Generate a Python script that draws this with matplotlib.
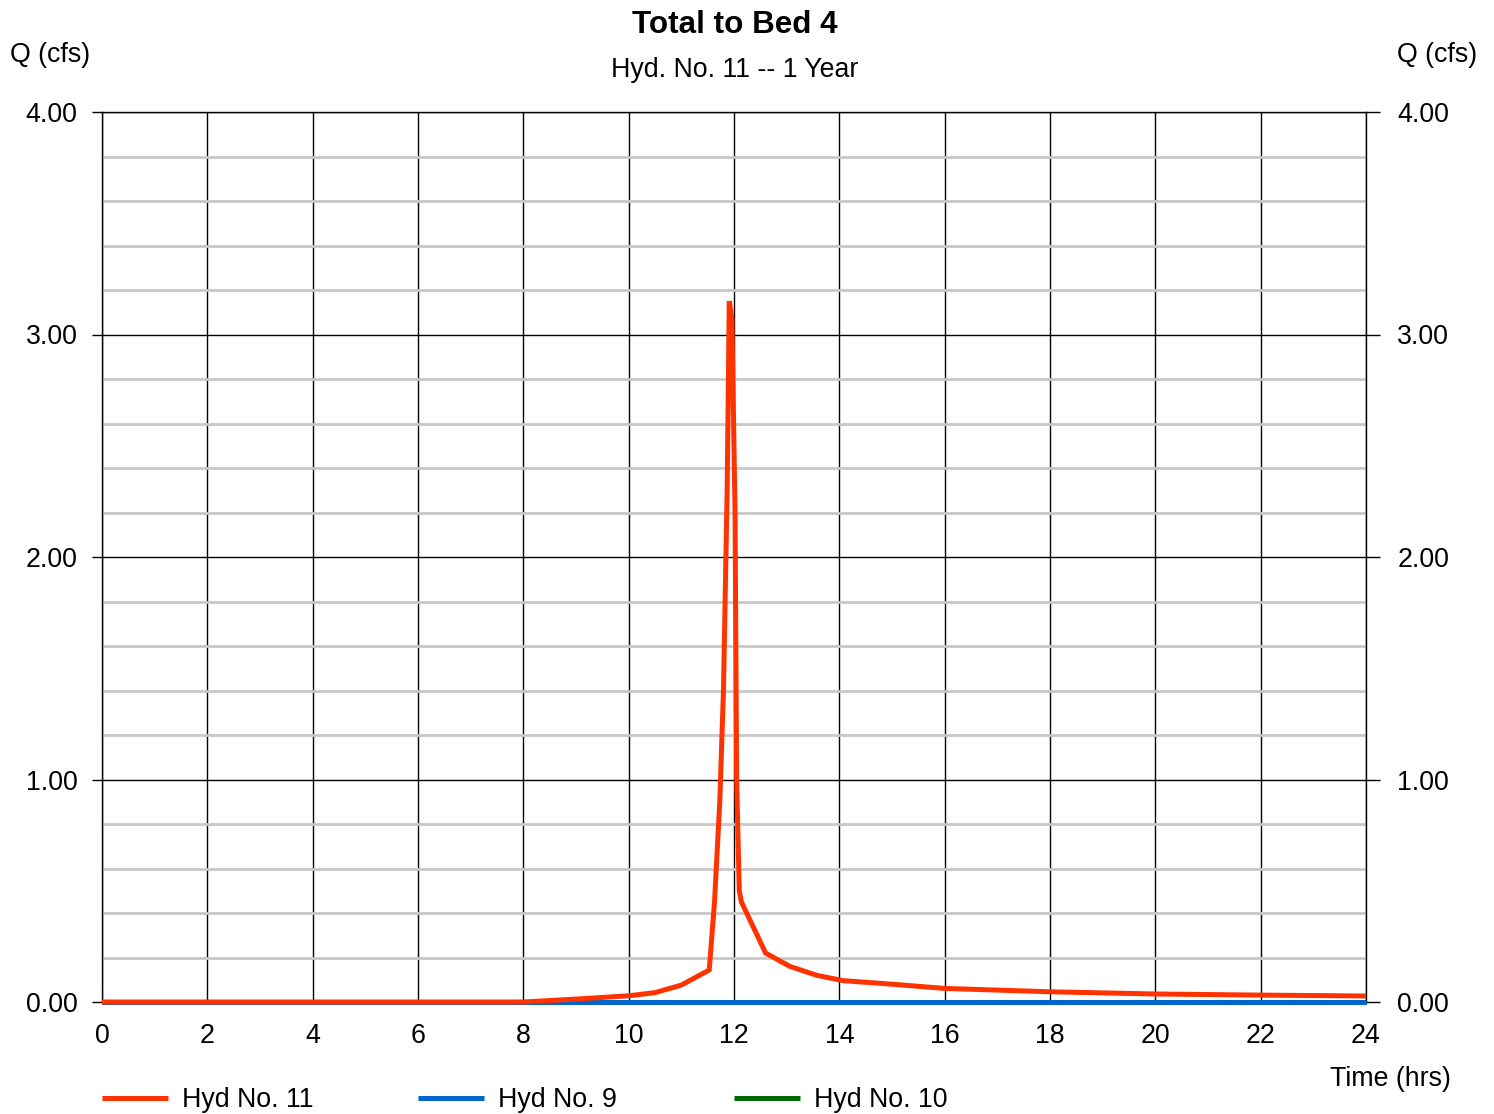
#!/usr/bin/env python3
# -*- coding: utf-8 -*-

import matplotlib
matplotlib.use("Agg")
import matplotlib.pyplot as plt
import matplotlib.transforms as mtransforms
from matplotlib.ticker import MultipleLocator

# Hydrograph data (time in hrs, Q in cfs)
hyd11_time = [0.0, 8.0, 9.0, 10.0, 10.5, 11.0, 11.53, 11.63, 11.73, 11.8, 11.87,
              11.91, 11.96, 12.02, 12.05, 12.1, 12.14, 12.6, 13.06, 13.57, 14.07,
              15.0, 16.0, 18.0, 20.0, 22.0, 24.0]
hyd11_q = [0.0, 0.0, 0.013, 0.028, 0.042, 0.076, 0.144, 0.45, 0.9, 1.4, 2.3,
           3.15, 3.07, 2.2, 1.0, 0.5, 0.45, 0.22, 0.16, 0.12, 0.096,
           0.08, 0.061, 0.046, 0.036, 0.031, 0.027]

hyd9_time = [0.0, 24.0]
hyd9_q = [0.0, 0.0]

hyd10_time = [0.0, 24.0]
hyd10_q = [0.0, 0.0]

x_ticks = list(range(0, 25, 2))
y_ticks = [0.0, 1.0, 2.0, 3.0, 4.0]

W, H = 1494, 1114
FS = 19.3
plt.rcParams['font.family'] = ['Liberation Sans', 'DejaVu Sans']

fig = plt.figure(figsize=(W / 100, H / 100), dpi=100)
ax = fig.add_axes([102 / W, 1 - 1002 / H, (1366 - 102) / W, (1002 - 112) / H])

# grid
ax.set_xlim(0, 24)
ax.set_ylim(0, 4)
ax.yaxis.set_minor_locator(MultipleLocator(0.2))
ax.set_xticks(x_ticks)
ax.set_yticks(y_ticks)
ax.grid(which='minor', axis='y', color='#c8c8c8', lw=2.0, zorder=0)
ax.grid(which='major', axis='y', color='black', lw=1.0, zorder=1)
ax.grid(which='major', axis='x', color='black', lw=1.0, zorder=1)
ax.set_axisbelow(True)

# series (Hyd 11 drawn last so it sits on top)
l10, = ax.plot(hyd10_time, hyd10_q, color='#006600', lw=3.6, zorder=3,
               solid_capstyle='butt', clip_on=False, label='Hyd No. 10')
l9, = ax.plot(hyd9_time, hyd9_q, color='#0066cc', lw=3.6, zorder=4,
              solid_capstyle='butt', clip_on=False, label='Hyd No. 9')
l11, = ax.plot(hyd11_time, hyd11_q, color='#ff3300', lw=3.6, zorder=5,
               solid_capstyle='butt', solid_joinstyle='miter', clip_on=False,
               label='Hyd No. 11')

for s in ax.spines.values():
    s.set_color('black')
    s.set_linewidth(1.0)

ax.tick_params(axis='x', which='both', length=0, pad=15, labelsize=FS)
ax.tick_params(axis='y', which='major', length=7.5, width=1.0, direction='out',
               labelsize=FS, pad=10, right=True, labelright=True)
ax.tick_params(axis='y', which='minor', length=0)
ax.set_yticklabels([f"{v:.2f}" for v in y_ticks])

# right side ticks are a bit longer and labels sit further out
shift = mtransforms.ScaledTranslation(7 / 100, 0, fig.dpi_scale_trans)
for t in ax.yaxis.get_major_ticks():
    t.tick2line.set_markersize(10)
    t.label2.set_transform(t.label2.get_transform() + shift)

# text
fig.text(735 / W, 1 - 25 / H, 'Total to Bed 4', ha='center', va='center',
         fontsize=22.6, fontweight='bold')
fig.text(735 / W, 1 - 70 / H, 'Hyd. No. 11 -- 1 Year', ha='center', va='center',
         fontsize=FS)
fig.text(10 / W, 1 - 55 / H, 'Q (cfs)', ha='left', va='center', fontsize=FS)
fig.text(1397 / W, 1 - 55 / H, 'Q (cfs)', ha='left', va='center', fontsize=FS)
fig.text(1451 / W, 1 - 1079 / H, 'Time (hrs)', ha='right', va='center', fontsize=FS)

# legend, one entry per slot
for line, x0 in [(l11, 102), (l9, 418), (l10, 734)]:
    fig.legend(handles=[line], loc='center left',
               bbox_to_anchor=(x0 / W, 1 - 1100 / H), frameon=False,
               fontsize=FS, borderpad=0, borderaxespad=0,
               handlelength=2.45, handletextpad=0.55)

fig.savefig('out.png', dpi=100)
